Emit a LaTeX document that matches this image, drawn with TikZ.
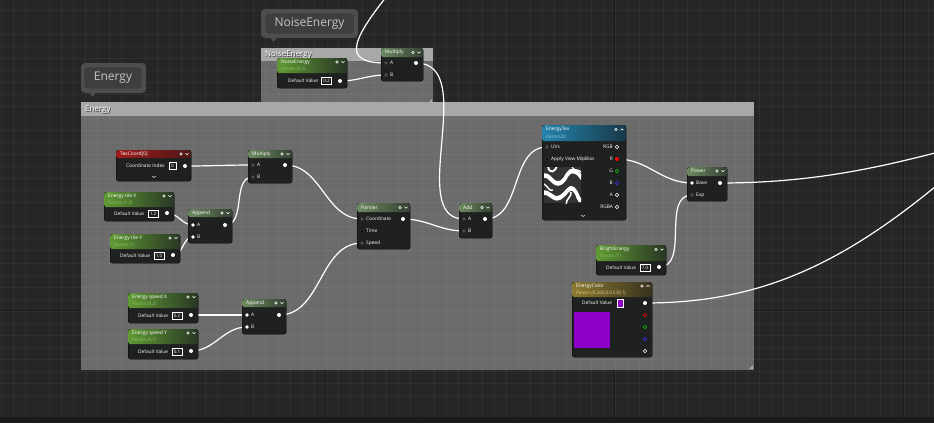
\documentclass[tikz,border=0pt]{standalone}
\usepackage{fontspec}
\setmainfont{Open Sans}
\usepackage{tikz}
\usetikzlibrary{positioning,calc}
\definecolor{graphbg}{RGB}{38,38,38}
\definecolor{darkband}{RGB}{27,27,27}
\definecolor{cmtbody}{RGB}{107,107,107}
\definecolor{cmttitle}{RGB}{168,168,168}
\definecolor{bubbleout}{RGB}{77,77,77}
\definecolor{bubblein}{RGB}{62,62,62}
\definecolor{bubbleedge}{RGB}{96,96,96}
\definecolor{bubbletext}{RGB}{196,196,196}
\definecolor{nodebody}{RGB}{30,33,31}
\definecolor{mathL}{RGB}{108,138,96}
\definecolor{mathR}{RGB}{52,64,50}
\definecolor{paramL}{RGB}{96,154,52}
\definecolor{paramR}{RGB}{40,54,36}
\definecolor{coordL}{RGB}{160,28,28}
\definecolor{coordR}{RGB}{78,24,24}
\definecolor{texL}{RGB}{36,132,172}
\definecolor{texR}{RGB}{24,56,72}
\definecolor{colL}{RGB}{140,122,48}
\definecolor{colR}{RGB}{56,50,30}
\definecolor{paramsub}{RGB}{150,192,96}
\definecolor{texsub}{RGB}{140,200,228}
\definecolor{colsub}{RGB}{222,206,140}
\definecolor{energypurple}{RGB}{140,0,200}
\pgfdeclarelayer{back}
\pgfdeclarelayer{wires}
\pgfsetlayers{back,wires,main}

\begin{document}
\begin{tikzpicture}[
    x=1pt, y=-1pt,
    mbody/.style={draw=black, fill=nodebody, rounded corners=2.5pt, anchor=north west, inner sep=0pt},
    mhead/.style={anchor=north west, rounded corners=2.5pt, inner sep=0pt},
    hmath/.style={left color=mathL, right color=mathR},
    hparam/.style={left color=paramL, right color=paramR},
    hcoord/.style={left color=coordL, right color=coordR},
    htex/.style={left color=texL, right color=texR},
    hcol/.style={left color=colL, right color=colR},
    mtitle/.style={anchor=west, inner sep=0pt, font=\fontsize{4.9}{5}\selectfont, text=white!90},
    msub/.style={anchor=west, inner sep=0pt, font=\fontsize{4.7}{5}\selectfont\itshape, text=paramsub},
    plabel/.style={anchor=west, inner sep=0pt, font=\fontsize{4.8}{5}\selectfont, text=white!88},
    valbox/.style={draw=white!60, line width=0.4pt, inner sep=0pt, minimum width=10pt, minimum height=7pt, font=\fontsize{4.6}{5}\selectfont, text=white!90},
    pinout/.style={circle, fill=white, inner sep=0pt, minimum size=4pt},
    pinin/.style={circle, fill=white!30!black, inner sep=0pt, minimum size=3.6pt},
    pinset/.style={circle, fill=white, inner sep=0pt, minimum size=3.6pt},
    pinoff/.style={circle, fill=black, draw=white!25!black, line width=0.4pt, inner sep=0pt, minimum size=3.2pt},
    pinopen/.style={circle, draw=#1, line width=0.6pt, fill=nodebody, inner sep=0pt, minimum size=3.4pt},
    pinopen/.default=white,
    wire/.style={draw=white!92, line width=1.2pt},
    icon/.style={draw=white!60, line width=0.45pt},
    bubble/.style={draw=bubbleedge, fill=bubblein, rounded corners=3pt, text=bubbletext, font=\fontsize{12}{14}\selectfont},
    cmtlabel/.style={anchor=west, inner sep=0pt, font=\fontsize{8}{9}\selectfont, text=white!95}
]
\useasboundingbox (0,0) rectangle (934,423);

% ========== GRAPH BACKGROUND AND COMMENTS ==========
\begin{pgfonlayer}{back}
\fill[graphbg] (0,0) rectangle (934,423);
\foreach \k in {0,...,9} \draw[black, opacity=0.3, line width=1pt] ({37+96.3*\k},0) -- ++(0,423);
\foreach \k in {0,...,4} \draw[black, opacity=0.3, line width=1pt] (0,{22+96.3*\k}) -- ++(934,0);
\fill[cmtbody] (261,48) rectangle (433,103);
\fill[cmtbody] (81,102) rectangle (754,370);
% grid
\foreach \k in {-3,...,75} \draw[white, opacity=0.045, line width=0.6pt] ({37+12.04*\k},0) -- ++(0,423);
\foreach \k in {-1,...,33} \draw[white, opacity=0.045, line width=0.6pt] (0,{22+12.04*\k}) -- ++(934,0);
\fill[darkband] (0,417) rectangle (934,423);
% title bars
\fill[cmttitle] (261,48) rectangle (433,61);
\fill[cmttitle] (81,102) rectangle (754,116);
\fill[cmttitle] (429,102) -- (432,99) -- (432,102) -- cycle;
\fill[cmttitle] (749,369) -- (753,365) -- (753,369) -- cycle;
\node[cmtlabel, text=black!80] at (85.7,110.2) {Energy};
\node[cmtlabel] (cmtE) at (85,109.5) {Energy};
\node[cmtlabel, text=black!80] at (265.7,55.7) {NoiseEnergy};
\node[cmtlabel] (cmtN) at (265,55) {NoiseEnergy};
% bubbles
\fill[bubbleout, rounded corners=4pt] (81,63) rectangle (146,93);
\fill[bubbleout] (89,92) -- (96,92) -- (92.5,97) -- cycle;
\node[bubble, minimum width=58pt, minimum height=22pt] (bubE) at (113,78) {Energy};
\fill[bubbleout, rounded corners=4pt] (261,9) rectangle (358,38);
\fill[bubbleout] (270,37) -- (277,37) -- (273.5,42) -- cycle;
\node[bubble, minimum width=89pt, minimum height=21pt] (bubN) at (309.5,23.5) {NoiseEnergy};
\end{pgfonlayer}

% ========== NOISE GROUP ==========
\node[mbody, minimum width=70pt, minimum height=30pt] (nparam) at (277,58) {};
\node[mhead, hparam, minimum width=70pt, minimum height=15pt] at (277,58) {};
\node[mtitle] at (281,62) {NoiseEnergy};
\node[msub] at (281,69) {Param (0.2)};
\node[plabel] at (288,81) {Default Value};
\node[valbox] (nparamV) at (326.5,81) {0.2};
\node[pinout] (nparamO) at (340,81) {};

\node[mbody, minimum width=42pt, minimum height=33pt] (mulN) at (381,48) {};
\node[mhead, hmath, minimum width=42pt, minimum height=9pt] at (381,48) {};
\node[mtitle] at (385,52.5) {Multiply};
\node[pinin] (mulNa) at (386,63) {}; \node[plabel] at (390,63) {A};
\node[pinin] (mulNb) at (386,75) {}; \node[plabel] at (390,75) {B};
\node[pinout] (mulNO) at (416,63) {};

% ========== UV BRANCH ==========
\node[mbody, minimum width=75pt, minimum height=31pt] (tex) at (116,150) {};
\node[mhead, hcoord, minimum width=75pt, minimum height=8pt] at (116,150) {};
\node[mtitle] at (120,154) {TexCoord[0]};
\node[plabel] at (126,166) {Coordinate Index};
\node[valbox, minimum width=7pt] (texV) at (172.5,166) {0};
\node[pinout] (texO) at (185,166) {};
\draw[icon] (152,176) -- (154,177.5) -- (156,176);

\node[mbody, minimum width=70pt, minimum height=29pt] (tileX) at (104,192) {};
\node[mhead, hparam, minimum width=70pt, minimum height=15pt] at (104,192) {};
\node[mtitle] at (108,196) {Energy tile X};
\node[msub] at (108,203) {Param (1.2)};
\node[plabel] at (114,214) {Default Value};
\node[valbox] (tileXV) at (153,214) {1.2};
\node[pinout] (tileXO) at (167,213) {};

\node[mbody, minimum width=70pt, minimum height=29pt] (tileY) at (110,234) {};
\node[mhead, hparam, minimum width=70pt, minimum height=15pt] at (110,234) {};
\node[mtitle] at (114,238) {Energy tile Y};
\node[msub] at (114,245) {Param (1)};
\node[plabel] at (120,256) {Default Value};
\node[valbox] (tileYV) at (159,256) {1.0};
\node[pinout] (tileYO) at (173,255) {};

\node[mbody, minimum width=44pt, minimum height=34pt] (appT) at (188,209) {};
\node[mhead, hmath, minimum width=44pt, minimum height=8pt] at (188,209) {};
\node[mtitle] at (192,213) {Append};
\node[pinset] (appTa) at (193,225) {}; \node[plabel] at (197,225) {A};
\node[pinset] (appTb) at (193,237) {}; \node[plabel] at (197,237) {B};
\node[pinout] (appTO) at (225,225) {};

\node[mbody, minimum width=44pt, minimum height=33pt] (mulE) at (248,150) {};
\node[mhead, hmath, minimum width=44pt, minimum height=8pt] at (248,150) {};
\node[mtitle] at (252,154) {Multiply};
\node[pinin] (mulEa) at (253,165) {}; \node[plabel] at (257,165) {A};
\node[pinin] (mulEb) at (253,177) {}; \node[plabel] at (257,177) {B};
\node[pinout] (mulEO) at (285,165) {};

% ========== SPEED BRANCH ==========
\node[mbody, minimum width=70pt, minimum height=30pt] (spdX) at (128,293) {};
\node[mhead, hparam, minimum width=70pt, minimum height=15pt] at (128,293) {};
\node[mtitle] at (132,297) {Energy speed X};
\node[msub] at (132,304) {Param (0.2)};
\node[plabel] at (138,316) {Default Value};
\node[valbox] (spdXV) at (177,316) {0.2};
\node[pinout] (spdXO) at (191,315) {};

\node[mbody, minimum width=70pt, minimum height=30pt] (spdY) at (128,329) {};
\node[mhead, hparam, minimum width=70pt, minimum height=15pt] at (128,329) {};
\node[mtitle] at (132,333) {Energy speed Y};
\node[msub] at (132,340) {Param (0.1)};
\node[plabel] at (138,352) {Default Value};
\node[valbox] (spdYV) at (177,352) {0.1};
\node[pinout] (spdYO) at (191,351) {};

\node[mbody, minimum width=44pt, minimum height=35pt] (appB) at (242,299) {};
\node[mhead, hmath, minimum width=44pt, minimum height=8pt] at (242,299) {};
\node[mtitle] at (246,303) {Append};
\node[pinset] (appBa) at (247,315) {}; \node[plabel] at (251,315) {A};
\node[pinset] (appBb) at (247,327) {}; \node[plabel] at (251,327) {B};
\node[pinout] (appBO) at (279,315) {};

% ========== PANNER / ADD ==========
\node[mbody, minimum width=53pt, minimum height=46pt] (pan) at (357,203) {};
\node[mhead, hmath, minimum width=53pt, minimum height=9pt] at (357,203) {};
\node[mtitle] at (361,207.5) {Panner};
\node[pinin] (panC) at (362,219) {}; \node[plabel] at (366,219) {Coordinate};
\node[pinoff] (panT) at (362,231) {}; \node[plabel] at (366,231) {Time};
\node[pinin] (panS) at (362,243) {}; \node[plabel] at (366,243) {Speed};
\node[pinout] (panO) at (403,219) {};

\node[mbody, minimum width=33pt, minimum height=35pt] (add) at (459,203) {};
\node[mhead, hmath, minimum width=33pt, minimum height=9pt] at (459,203) {};
\node[mtitle] at (463,207.5) {Add};
\node[pinin] (adda) at (464,219) {}; \node[plabel] at (468,219) {A};
\node[pinin] (addb) at (464,231) {}; \node[plabel] at (468,231) {B};
\node[pinout] (addO) at (485,219) {};

% ========== TEXTURE / OUTPUT SIDE ==========
\node[mbody, minimum width=84pt, minimum height=95pt] (tex2) at (542,125) {};
\node[mhead, htex, minimum width=84pt, minimum height=16pt] at (542,125) {};
\node[mtitle] at (546,129.5) {EnergyTex};
\node[msub, text=texsub] at (546,136.5) {Param2D};
\node[pinin] (tex2uv) at (547,147) {}; \node[plabel] at (551,147) {UVs};
\node[pinoff] (tex2mip) at (547,159) {}; \node[plabel] at (551,159) {Apply View MipBias};
\node[pinopen] (tex2rgb) at (617,147) {}; \node[plabel, anchor=east] at (613,147) {RGB};
\node[pinout, fill=red] (tex2r) at (617,159) {}; \node[plabel, anchor=east] at (613,159) {R};
\node[pinopen=green!80!black] (tex2g) at (617,171) {}; \node[plabel, anchor=east] at (613,171) {G};
\node[pinopen=blue!80] (tex2b) at (617,183) {}; \node[plabel, anchor=east] at (613,183) {B};
\node[pinopen] (tex2a) at (617,195) {}; \node[plabel, anchor=east] at (613,195) {A};
\node[pinopen] (tex2rgba) at (617,207) {}; \node[plabel, anchor=east] at (613,207) {RGBA};
\begin{scope}
\clip (544,167) rectangle (581,203);
\fill[black!80] (544,167) rectangle (581,203);
\draw[white!45, line width=3.5pt] (542,177) .. controls (550,172) and (553,188) .. (561,183) .. controls (568,178) and (566,170) .. (575,172) .. controls (580,173) and (581,180) .. (584,179);
\draw[white!85, line width=1.6pt] (542,175) .. controls (550,170) and (553,186) .. (561,181) .. controls (568,176) and (566,168) .. (575,170) .. controls (580,171) and (581,178) .. (584,177);
\draw[white!80, line width=1.8pt] (548,166) .. controls (549,175) and (556,172) .. (557,165);
\draw[white!45, line width=3.5pt] (542,194) .. controls (550,190) and (552,202) .. (560,198) .. controls (567,194) and (568,186) .. (574,190) .. controls (579,194) and (577,202) .. (583,201);
\draw[white!85, line width=1.6pt] (542,192) .. controls (550,188) and (552,200) .. (560,196) .. controls (567,192) and (568,184) .. (574,188) .. controls (579,192) and (577,200) .. (583,199);
\draw[white!65, line width=1.5pt] (566,205) .. controls (566,198) and (572,197) .. (571,192);
\draw[white!60, line width=1.4pt] (544,184) .. controls (548,186) and (549,192) .. (553,190);
\draw[white!55, line width=1.2pt] (572,167) .. controls (574,172) and (579,168) .. (582,173);
\end{scope}
\draw[icon] (581,215) -- (583,216.5) -- (585,215);

\node[mbody, minimum width=40pt, minimum height=34pt] (pow) at (687,167) {};
\node[mhead, hmath, minimum width=40pt, minimum height=9pt] at (687,167) {};
\node[mtitle] at (691,171) {Power};
\node[pinset] (powBase) at (692,183) {}; \node[plabel] at (696,183) {Base};
\node[pinin] (powExp) at (692,195) {}; \node[plabel] at (696,195) {Exp};
\node[pinout] (powO) at (720,183) {};

\node[mbody, minimum width=70pt, minimum height=30pt] (bright) at (596,245) {};
\node[mhead, hparam, minimum width=70pt, minimum height=16pt] at (596,245) {};
\node[mtitle] at (600,249.5) {BrightEnergy};
\node[msub] at (600,256.5) {Param (7)};
\node[plabel] at (606,268) {Default Value};
\node[valbox] (brightV) at (645,268) {7.0};
\node[pinout] (brightO) at (659,267) {};

\node[mbody, minimum width=80pt, minimum height=75pt] (col) at (572,282) {};
\node[mhead, hcol, minimum width=80pt, minimum height=15pt] at (572,282) {};
\node[mtitle] at (576,286) {EnergyColor};
\node[msub, text=colsub] at (576,293) {Param (0.266,0,0.539,1)};
\node[plabel] at (582,303) {Default Value};
\node[fill=energypurple, draw=white!50, line width=0.3pt, minimum width=6pt, minimum height=8pt, inner sep=0pt] (colV) at (620,303) {};
\node[fill=energypurple, anchor=north west, minimum width=36pt, minimum height=36pt, inner sep=0pt] (colSw) at (574,312) {};
\node[pinout] (colO) at (645,303) {};
\node[pinopen=red] (colR) at (645,315) {};
\node[pinopen=green!80!black] (colG) at (645,327) {};
\node[pinopen=blue!80] (colB) at (645,339) {};
\node[pinopen] (colA) at (645,351) {};

% header icons
\foreach \x/\y/\d in {191/154/1, 292/154/1, 174/196/1, 180/238/1, 232/213/1, 410/207.5/1, 492/207.5/1, 198/297/1, 198/333/1, 286/303/1, 347/62/1, 423/52.5/1, 626/129.5/-1, 727/171/1, 666/249.5/1, 652/286/-1} {
    \draw[icon] ({\x-10},\y) circle[radius=1.3pt];
    \draw[icon] ({\x-5.5},{\y-0.8*(\d)}) -- ({\x-4},{\y+0.8*(\d)}) -- ({\x-2.5},{\y-0.8*(\d)});
}

% ========== WIRES ==========
\coordinate (nTop) at (400,-20);
\coordinate (farPow) at (1200,110);
\coordinate (farCol) at (1000,130);
\begin{pgfonlayer}{wires}
\draw[wire] (texO.center) to[out=0,in=180] (mulEa.center);
\draw[wire] (appTO.center) to[out=0,in=180] (mulEb.center);
\draw[wire] (tileXO.center) to[out=0,in=180] (appTa.center);
\draw[wire] (tileYO.center) to[out=0,in=180] (appTb.center);
\draw[wire] (mulEO.center) to[out=0,in=180] (panC.center);
\draw[wire] (spdXO.center) to[out=0,in=180] (appBa.center);
\draw[wire] (spdYO.center) to[out=0,in=180] (appBb.center);
\draw[wire] (appBO.center) to[out=0,in=180] (panS.center);
\draw[wire] (panO.center) to[out=0,in=180] (addb.center);
\draw[wire] (nTop) .. controls (350,40) and (340,63) .. (mulNa.center);
\draw[wire] (nparamO.center) to[out=0,in=180] (mulNb.center);
\draw[wire] (mulNO.center) .. controls (480,63) and (405,219) .. (adda.center);
\draw[wire] (addO.center) to[out=0,in=180] (tex2uv.center);
\draw[wire] (tex2r.center) to[out=0,in=180] (powBase.center);
\draw[wire] (brightO.center) to[out=0,in=180] (powExp.center);
\draw[wire] (powO.center) .. controls +(200,0) and +(-200,0) .. (farPow);
\draw[wire] (colO.center) .. controls (780,303) and (870,250) .. (farCol);
\end{pgfonlayer}

\end{tikzpicture}
\end{document}
